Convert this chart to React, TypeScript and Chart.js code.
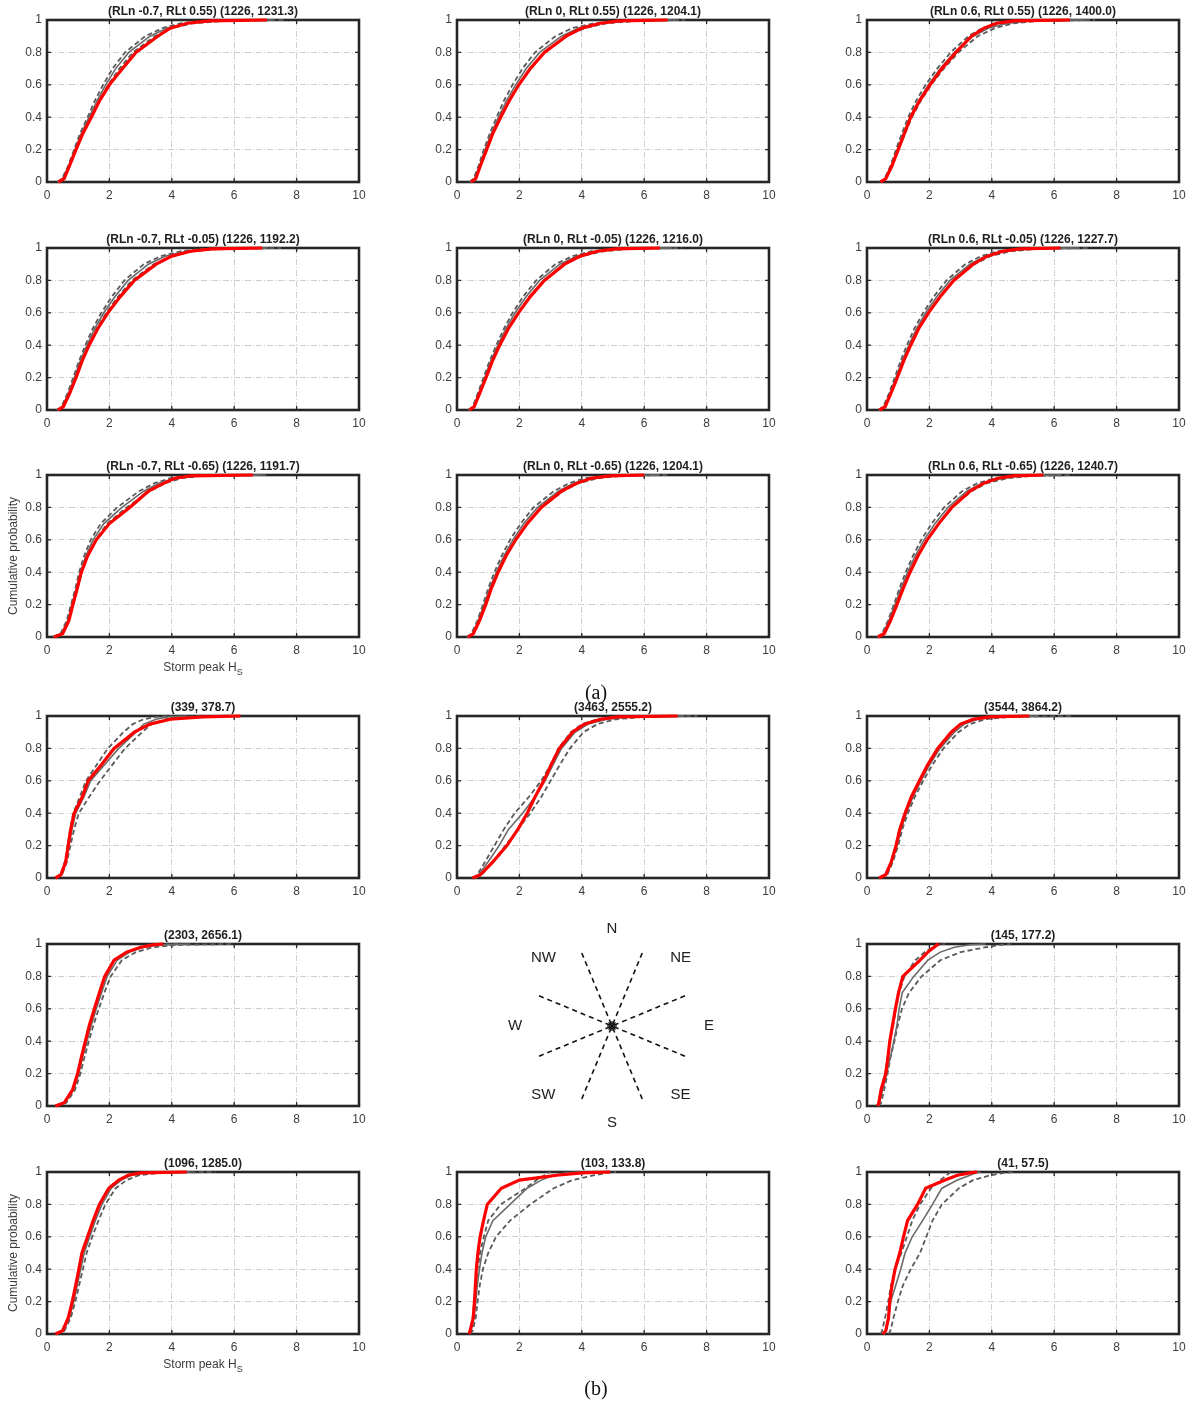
import React, { useEffect, useRef } from "react";
import { Chart, registerables } from "chart.js";
Chart.register(...registerables);

// ---------- data ----------
const PROB = [0, 0.02, 0.1, 0.2, 0.3, 0.4, 0.5, 0.6, 0.7, 0.8, 0.9, 0.95, 0.98, 0.995, 1];
const X_TICKS = [0, 2, 4, 6, 8, 10];
const Y_TICKS = [0, 0.2, 0.4, 0.6, 0.8, 1];

const TITLES = [
  "(RLn -0.7, RLt 0.55) (1226, 1231.3)",
  "(RLn 0, RLt 0.55) (1226, 1204.1)",
  "(RLn 0.6, RLt 0.55) (1226, 1400.0)",
  "(RLn -0.7, RLt -0.05) (1226, 1192.2)",
  "(RLn 0, RLt -0.05) (1226, 1216.0)",
  "(RLn 0.6, RLt -0.05) (1226, 1227.7)",
  "(RLn -0.7, RLt -0.65) (1226, 1191.7)",
  "(RLn 0, RLt -0.65) (1226, 1204.1)",
  "(RLn 0.6, RLt -0.65) (1226, 1240.7)",
  "(339, 378.7)",
  "(3463, 2555.2)",
  "(3544, 3864.2)",
  "(2303, 2656.1)",
  "(145, 177.2)",
  "(1096, 1285.0)",
  "(103, 133.8)",
  "(41, 57.5)",
];

// empirical CDF (red): storm peak Hs at each PROB level
const RED_X = [
  [0.37, 0.55, 0.72, 0.93, 1.15, 1.42, 1.68, 2.0, 2.42, 2.85, 3.55, 3.95, 4.5, 5.2, 7.05],
  [0.45, 0.6, 0.75, 0.95, 1.15, 1.4, 1.67, 1.98, 2.35, 2.8, 3.5, 4.0, 4.6, 5.2, 6.75],
  [0.43, 0.6, 0.8, 1.0, 1.2, 1.4, 1.68, 2.02, 2.4, 2.85, 3.35, 3.75, 4.15, 4.7, 6.5],
  [0.35, 0.52, 0.72, 0.93, 1.12, 1.35, 1.62, 1.95, 2.35, 2.8, 3.5, 4.0, 4.6, 5.3, 6.9],
  [0.4, 0.55, 0.72, 0.93, 1.13, 1.37, 1.64, 1.97, 2.35, 2.8, 3.45, 3.95, 4.5, 5.1, 6.5],
  [0.4, 0.58, 0.76, 0.97, 1.17, 1.4, 1.65, 1.97, 2.35, 2.78, 3.4, 3.85, 4.35, 4.9, 6.2],
  [0.22, 0.5, 0.7, 0.83, 0.97, 1.1, 1.3, 1.58, 2.0, 2.65, 3.25, 3.75, 4.1, 4.6, 6.6],
  [0.35, 0.52, 0.72, 0.92, 1.1, 1.32, 1.57, 1.88, 2.25, 2.7, 3.35, 3.85, 4.3, 4.9, 6.0],
  [0.35, 0.55, 0.75, 0.96, 1.16, 1.38, 1.63, 1.93, 2.3, 2.72, 3.3, 3.75, 4.2, 4.7, 5.65],
  [0.27, 0.45, 0.6, 0.68, 0.76, 0.87, 1.13, 1.32, 1.75, 2.15, 2.8, 3.3, 3.95, 5.0, 6.2],
  [0.5, 0.75, 1.15, 1.6, 1.95, 2.25, 2.5, 2.78, 3.02, 3.28, 3.7, 4.08, 4.6, 5.15, 7.07],
  [0.39, 0.6, 0.78, 0.93, 1.05, 1.22, 1.42, 1.68, 1.95, 2.27, 2.7, 3.0, 3.4, 3.95, 5.2],
  [0.27, 0.55, 0.82, 0.98, 1.1, 1.23, 1.36, 1.52, 1.68, 1.85, 2.15, 2.55, 3.0, 3.4, 3.73],
  [0.34, 0.38, 0.45, 0.6, 0.67, 0.73, 0.82, 0.91, 1.01, 1.15, 1.7, 1.95, 2.15, 2.25, 2.31],
  [0.27, 0.5, 0.68, 0.81, 0.92, 1.02, 1.12, 1.3, 1.48, 1.68, 1.98, 2.3, 2.6, 3.0, 4.48],
  [0.39, 0.42, 0.52, 0.56, 0.59, 0.62, 0.67, 0.74, 0.85, 0.97, 1.42, 2.0, 3.2, 4.0, 4.91],
  [0.5, 0.6, 0.69, 0.73, 0.8, 0.9, 1.05, 1.17, 1.3, 1.62, 1.88, 2.5, 2.9, 3.3, 3.53],
];

// model median (grey solid)
const MEDIAN_X = [
  [0.35, 0.5, 0.7, 0.9, 1.1, 1.35, 1.6, 1.88, 2.2, 2.62, 3.3, 3.85, 4.5, 5.4, 7.2],
  [0.42, 0.56, 0.72, 0.9, 1.1, 1.33, 1.58, 1.88, 2.22, 2.65, 3.35, 3.9, 4.6, 5.5, 7.0],
  [0.42, 0.58, 0.78, 0.97, 1.17, 1.38, 1.65, 1.97, 2.35, 2.8, 3.4, 3.9, 4.5, 5.3, 7.0],
  [0.33, 0.48, 0.68, 0.88, 1.06, 1.28, 1.52, 1.82, 2.18, 2.6, 3.25, 3.8, 4.5, 5.3, 7.1],
  [0.38, 0.52, 0.69, 0.89, 1.08, 1.31, 1.56, 1.86, 2.22, 2.65, 3.3, 3.85, 4.5, 5.3, 6.9],
  [0.39, 0.55, 0.73, 0.93, 1.12, 1.34, 1.58, 1.88, 2.24, 2.66, 3.3, 3.8, 4.4, 5.2, 6.8],
  [0.22, 0.45, 0.66, 0.8, 0.94, 1.07, 1.24, 1.48, 1.82, 2.4, 3.1, 3.6, 4.1, 4.8, 6.9],
  [0.33, 0.49, 0.68, 0.87, 1.05, 1.26, 1.5, 1.79, 2.14, 2.58, 3.25, 3.75, 4.3, 5.1, 6.5],
  [0.34, 0.51, 0.7, 0.9, 1.09, 1.3, 1.54, 1.83, 2.18, 2.6, 3.2, 3.7, 4.3, 5.0, 6.2],
  [0.28, 0.45, 0.6, 0.7, 0.8, 0.92, 1.18, 1.4, 1.85, 2.3, 2.85, 3.1, 3.5, 3.9, 4.5],
  [0.55, 0.7, 1.0, 1.35, 1.65, 2.1, 2.5, 2.82, 3.08, 3.35, 3.78, 4.2, 4.8, 5.6, 7.3],
  [0.4, 0.62, 0.8, 0.96, 1.09, 1.26, 1.47, 1.73, 2.01, 2.34, 2.8, 3.12, 3.55, 4.2, 5.5],
  [0.28, 0.58, 0.85, 1.02, 1.14, 1.28, 1.42, 1.58, 1.75, 1.93, 2.25, 2.65, 3.1, 3.6, 4.6],
  [0.35, 0.4, 0.5, 0.63, 0.75, 0.86, 0.96, 1.03, 1.13, 1.5, 1.95, 2.35, 2.8, 3.3, 3.8],
  [0.28, 0.53, 0.72, 0.86, 0.97, 1.08, 1.19, 1.37, 1.55, 1.76, 2.06, 2.38, 2.7, 3.2, 4.6],
  [0.4, 0.45, 0.55, 0.6, 0.65, 0.72, 0.8, 0.92, 1.15, 1.7, 2.25, 2.7, 3.1, 3.5, 3.96],
  [0.55, 0.62, 0.7, 0.76, 0.92, 1.08, 1.22, 1.45, 1.78, 2.1, 2.4, 2.9, 3.3, 3.5, 3.64],
];

// upper uncertainty band (grey dashed, left)
const UPPER_X = [
  [0.33, 0.48, 0.68, 0.87, 1.06, 1.3, 1.53, 1.8, 2.1, 2.5, 3.15, 3.7, 4.3, 5.1, 6.8],
  [0.4, 0.53, 0.69, 0.86, 1.05, 1.27, 1.5, 1.78, 2.1, 2.5, 3.15, 3.7, 4.4, 5.2, 6.8],
  [0.4, 0.56, 0.75, 0.93, 1.12, 1.32, 1.57, 1.88, 2.25, 2.68, 3.25, 3.7, 4.3, 5.1, 6.8],
  [0.31, 0.46, 0.65, 0.84, 1.02, 1.23, 1.46, 1.74, 2.08, 2.48, 3.1, 3.65, 4.3, 5.0, 6.8],
  [0.36, 0.5, 0.66, 0.85, 1.04, 1.26, 1.5, 1.78, 2.12, 2.54, 3.15, 3.7, 4.3, 5.1, 6.7],
  [0.37, 0.52, 0.7, 0.89, 1.07, 1.28, 1.51, 1.8, 2.14, 2.55, 3.15, 3.65, 4.2, 5.0, 6.6],
  [0.2, 0.43, 0.63, 0.77, 0.91, 1.03, 1.19, 1.4, 1.72, 2.25, 2.95, 3.45, 3.95, 4.6, 6.7],
  [0.31, 0.46, 0.65, 0.83, 1.0, 1.2, 1.43, 1.7, 2.04, 2.45, 3.1, 3.6, 4.1, 4.9, 6.3],
  [0.32, 0.48, 0.67, 0.86, 1.04, 1.24, 1.47, 1.74, 2.07, 2.47, 3.05, 3.55, 4.1, 4.8, 6.0],
  [0.27, 0.43, 0.57, 0.66, 0.74, 0.84, 1.05, 1.25, 1.6, 1.95, 2.45, 2.75, 3.1, 3.5, 4.0],
  [0.5, 0.65, 0.9, 1.2, 1.5, 1.85, 2.3, 2.7, 3.0, 3.25, 3.65, 4.0, 4.5, 5.2, 7.0],
  [0.38, 0.59, 0.77, 0.92, 1.04, 1.21, 1.41, 1.67, 1.94, 2.25, 2.68, 3.0, 3.4, 4.0, 5.3],
  [0.27, 0.55, 0.82, 0.98, 1.1, 1.23, 1.37, 1.53, 1.69, 1.86, 2.15, 2.55, 3.0, 3.5, 4.2],
  [0.33, 0.37, 0.44, 0.58, 0.66, 0.74, 0.84, 0.93, 1.03, 1.2, 1.55, 1.85, 2.1, 2.3, 2.5],
  [0.27, 0.5, 0.69, 0.82, 0.93, 1.03, 1.14, 1.31, 1.48, 1.68, 1.97, 2.28, 2.6, 3.0, 4.3],
  [0.38, 0.42, 0.5, 0.55, 0.6, 0.66, 0.74, 0.86, 1.0, 1.4, 2.2, 2.55, 2.8, 2.92, 3.0],
  [0.45, 0.48, 0.58, 0.68, 0.77, 0.9, 1.1, 1.28, 1.45, 1.7, 2.05, 2.35, 2.55, 2.65, 2.7],
];

// lower uncertainty band (grey dashed, right)
const LOWER_X = [
  [0.37, 0.52, 0.72, 0.93, 1.14, 1.4, 1.67, 1.96, 2.32, 2.75, 3.45, 4.0, 4.7, 5.7, 7.6],
  [0.44, 0.58, 0.75, 0.94, 1.15, 1.39, 1.65, 1.97, 2.34, 2.8, 3.5, 4.1, 4.8, 5.8, 7.3],
  [0.44, 0.6, 0.81, 1.01, 1.22, 1.44, 1.72, 2.06, 2.46, 2.93, 3.55, 4.1, 4.7, 5.6, 7.3],
  [0.35, 0.5, 0.71, 0.92, 1.1, 1.33, 1.58, 1.9, 2.28, 2.72, 3.42, 4.0, 4.7, 5.6, 7.5],
  [0.4, 0.54, 0.72, 0.93, 1.13, 1.36, 1.63, 1.95, 2.32, 2.78, 3.45, 4.0, 4.7, 5.6, 7.2],
  [0.41, 0.57, 0.76, 0.97, 1.17, 1.4, 1.65, 1.96, 2.34, 2.78, 3.45, 3.95, 4.6, 5.5, 7.1],
  [0.24, 0.48, 0.69, 0.84, 0.98, 1.12, 1.3, 1.56, 1.93, 2.55, 3.3, 3.8, 4.3, 5.0, 7.1],
  [0.35, 0.52, 0.71, 0.91, 1.1, 1.31, 1.56, 1.87, 2.24, 2.7, 3.4, 3.9, 4.5, 5.3, 6.8],
  [0.36, 0.53, 0.73, 0.94, 1.14, 1.36, 1.61, 1.92, 2.29, 2.73, 3.35, 3.85, 4.5, 5.3, 6.6],
  [0.3, 0.48, 0.64, 0.75, 0.87, 1.02, 1.35, 1.7, 2.1, 2.5, 3.05, 3.35, 3.8, 4.3, 5.0],
  [0.6, 0.8, 1.15, 1.55, 1.95, 2.35, 2.7, 3.0, 3.3, 3.62, 4.05, 4.5, 5.1, 6.0, 7.7],
  [0.42, 0.65, 0.83, 1.0, 1.13, 1.31, 1.53, 1.8, 2.1, 2.45, 2.93, 3.3, 3.8, 4.6, 6.6],
  [0.3, 0.62, 0.9, 1.07, 1.2, 1.34, 1.49, 1.66, 1.84, 2.04, 2.4, 2.85, 3.4, 4.2, 5.9],
  [0.38, 0.45, 0.55, 0.66, 0.75, 0.88, 0.99, 1.12, 1.35, 1.75, 2.35, 3.0, 3.8, 4.3, 4.6],
  [0.3, 0.56, 0.76, 0.91, 1.03, 1.15, 1.27, 1.45, 1.65, 1.87, 2.2, 2.55, 2.95, 3.6, 5.4],
  [0.42, 0.5, 0.6, 0.66, 0.73, 0.83, 1.0, 1.25, 1.7, 2.35, 3.1, 3.7, 4.4, 4.8, 5.1],
  [0.7, 0.75, 0.85, 0.99, 1.15, 1.4, 1.7, 1.9, 2.1, 2.4, 2.95, 3.4, 3.96, 4.4, 4.7],
];

const COMPASS_LABELS = ["N", "NE", "E", "SE", "S", "SW", "W", "NW"];
const COMPASS_BOUNDARY_DEG = [22.5, 67.5, 112.5, 157.5];

// ---------- layout (styles only) ----------
const COL_LEFT = [47, 457, 867];
const ROW_TOP = [20, 248, 475, 716, 944, 1172];
const PANEL_CELLS: [number, number][] = [
  [0, 0], [0, 1], [0, 2],
  [1, 0], [1, 1], [1, 2],
  [2, 0], [2, 1], [2, 2],
  [3, 0], [3, 1], [3, 2],
  [4, 0], [4, 2],
  [5, 0], [5, 1], [5, 2],
];
const Y_AXIS_W = 47;
const TOP_PAD = 22;
const RIGHT_PAD = 22;
const PLOT_W = 312;
const PLOT_H = 162;
const X_AXIS_H = 48;
const FONT = '"Liberation Sans", Arial, Helvetica, sans-serif';
const TEXT_COLOR = "#3c3c3c";
const GRID_COLOR = "#cfcfcf";

function makeFramePlugin(title: string, withLabels: boolean) {
  return {
    id: "frame",
    beforeDatasetsDraw(chart: any) {
      const { ctx, chartArea: a } = chart;
      const xs = chart.scales.x;
      const ys = chart.scales.y;
      ctx.save();
      ctx.strokeStyle = "#262626";
      ctx.lineWidth = 1.3;
      ctx.setLineDash([]);
      ctx.beginPath();
      X_TICKS.forEach((v) => {
        const px = xs.getPixelForValue(v);
        ctx.moveTo(px, a.bottom);
        ctx.lineTo(px, a.bottom - 4);
        ctx.moveTo(px, a.top);
        ctx.lineTo(px, a.top + 4);
      });
      Y_TICKS.forEach((v) => {
        const py = ys.getPixelForValue(v);
        ctx.moveTo(a.left, py);
        ctx.lineTo(a.left + 4, py);
        ctx.moveTo(a.right, py);
        ctx.lineTo(a.right - 4, py);
      });
      ctx.stroke();
      ctx.lineWidth = 2.6;
      ctx.strokeRect(a.left, a.top, a.right - a.left, a.bottom - a.top);
      ctx.restore();
    },
    afterDraw(chart: any) {
      const { ctx, chartArea: a } = chart;
      const cx = (a.left + a.right) / 2;
      ctx.save();
      ctx.fillStyle = "#1e1e1e";
      ctx.font = `bold 12px ${FONT}`;
      ctx.textAlign = "center";
      ctx.textBaseline = "alphabetic";
      ctx.fillText(title, cx, a.top - 5);
      if (withLabels) {
        ctx.fillStyle = TEXT_COLOR;
        ctx.font = `12px ${FONT}`;
        const main = "Storm peak H";
        const mw = ctx.measureText(main).width;
        ctx.font = `9px ${FONT}`;
        const sw = ctx.measureText("S").width;
        const start = cx - (mw + sw) / 2;
        ctx.textAlign = "left";
        ctx.font = `12px ${FONT}`;
        ctx.fillText(main, start, a.bottom + 34);
        ctx.font = `9px ${FONT}`;
        ctx.fillText("S", start + mw, a.bottom + 38);
        ctx.font = `12px ${FONT}`;
        ctx.translate(14, (a.top + a.bottom) / 2);
        ctx.rotate(-Math.PI / 2);
        ctx.textAlign = "center";
        ctx.textBaseline = "middle";
        ctx.fillText("Cumulative probability", 0, 0);
      }
      ctx.restore();
    },
  };
}

function Panel({ i }: { i: number }) {
  const ref = useRef<HTMLCanvasElement>(null);
  const [r, c] = PANEL_CELLS[i];
  const withLabels = c === 0 && (r === 2 || r === 5);
  const width = Y_AXIS_W + PLOT_W + RIGHT_PAD;
  const height = TOP_PAD + PLOT_H + X_AXIS_H;
  useEffect(() => {
    const pts = (xs: number[]) => xs.map((x, k) => ({ x, y: PROB[k] }));
    const common = { pointRadius: 0, tension: 0, fill: false, clip: 4 };
    const chart = new Chart(ref.current as HTMLCanvasElement, {
      type: "line",
      data: {
        datasets: [
          { ...common, data: pts(RED_X[i]), borderColor: "#ff0000", borderWidth: 3.2 },
          { ...common, data: pts(MEDIAN_X[i]), borderColor: "#6a6a6a", borderWidth: 1.6 },
          { ...common, data: pts(UPPER_X[i]), borderColor: "#5a5a5a", borderWidth: 1.8, borderDash: [5, 3] },
          { ...common, data: pts(LOWER_X[i]), borderColor: "#5a5a5a", borderWidth: 1.8, borderDash: [5, 3] },
        ],
      } as any,
      options: {
        animation: false,
        responsive: false,
        devicePixelRatio: 1,
        events: [],
        layout: { autoPadding: false, padding: { left: 0, right: RIGHT_PAD, top: TOP_PAD, bottom: 0 } },
        plugins: { legend: { display: false }, tooltip: { enabled: false }, title: { display: false } },
        scales: {
          x: {
            type: "linear",
            min: 0,
            max: 10,
            ticks: { stepSize: 2, padding: 6, color: TEXT_COLOR, font: { size: 12, family: FONT }, maxRotation: 0, autoSkip: false },
            grid: { color: GRID_COLOR, lineWidth: 1, drawTicks: false },
            border: { display: false, dash: [6, 2, 1, 2] },
            afterFit: (s: any) => { s.height = X_AXIS_H; },
          },
          y: {
            type: "linear",
            min: 0,
            max: 1,
            ticks: {
              stepSize: 0.2,
              padding: 5,
              color: TEXT_COLOR,
              font: { size: 12, family: FONT },
              callback: (v: any) => String(Math.round(Number(v) * 10) / 10),
            },
            grid: { color: GRID_COLOR, lineWidth: 1, drawTicks: false },
            border: { display: false, dash: [6, 2, 1, 2] },
            afterFit: (s: any) => { s.width = Y_AXIS_W; },
          },
        },
      } as any,
      plugins: [makeFramePlugin(TITLES[i], withLabels)],
    });
    return () => chart.destroy();
  }, [i]);
  return (
    <canvas
      ref={ref}
      width={width}
      height={height}
      style={{
        position: "absolute",
        left: COL_LEFT[c] - Y_AXIS_W,
        top: ROW_TOP[r] - TOP_PAD,
        width,
        height,
        display: "block",
      }}
    />
  );
}

function Compass() {
  const ref = useRef<HTMLCanvasElement>(null);
  const size = 240;
  const R_LINE = 79;
  const R_LABEL = 97;
  useEffect(() => {
    const rad = (d: number) => (d * Math.PI) / 180;
    const lineSets = COMPASS_BOUNDARY_DEG.map((d) => ({
      data: [
        { x: R_LINE * Math.cos(rad(d)), y: R_LINE * Math.sin(rad(d)) },
        { x: R_LINE * Math.cos(rad(d + 180)), y: R_LINE * Math.sin(rad(d + 180)) },
      ],
      borderColor: "#111",
      borderWidth: 1.6,
      borderDash: [5, 4],
      pointRadius: 0,
      fill: false,
    }));
    const labelPlugin = {
      id: "compassLabels",
      afterDraw(chart: any) {
        const { ctx } = chart;
        const xs = chart.scales.x;
        const ys = chart.scales.y;
        ctx.save();
        ctx.fillStyle = "#222";
        ctx.font = `15px ${FONT}`;
        ctx.textAlign = "center";
        ctx.textBaseline = "middle";
        COMPASS_LABELS.forEach((lab, k) => {
          const d = 90 - 45 * k;
          ctx.fillText(lab, xs.getPixelForValue(R_LABEL * Math.cos(rad(d))), ys.getPixelForValue(R_LABEL * Math.sin(rad(d))));
        });
        ctx.restore();
      },
    };
    const chart = new Chart(ref.current as HTMLCanvasElement, {
      type: "line",
      data: {
        datasets: [
          {
            data: [{ x: 0, y: 0 }],
            pointStyle: "star",
            pointRadius: 5,
            borderColor: "#000",
            backgroundColor: "rgba(0,0,0,0)",
            borderWidth: 1.1,
            showLine: false,
          },
          ...lineSets,
        ],
      } as any,
      options: {
        animation: false,
        responsive: false,
        devicePixelRatio: 1,
        events: [],
        layout: { autoPadding: false, padding: 0 },
        plugins: { legend: { display: false }, tooltip: { enabled: false } },
        scales: {
          x: { type: "linear", min: -size / 2, max: size / 2, display: false },
          y: { type: "linear", min: -size / 2, max: size / 2, display: false },
        },
      } as any,
      plugins: [labelPlugin],
    });
    return () => chart.destroy();
  }, []);
  return (
    <canvas
      ref={ref}
      width={size}
      height={size}
      style={{ position: "absolute", left: 612 - size / 2, top: 1026 - size / 2, width: size, height: size, display: "block" }}
    />
  );
}

const captionStyle: React.CSSProperties = {
  position: "absolute",
  width: 80,
  textAlign: "center",
  font: '20px "Liberation Serif", "Times New Roman", serif',
  lineHeight: "24px",
  color: "#111",
};

export default function App() {
  return (
    <div style={{ position: "absolute", left: 0, top: 0, width: 1188, height: 1405, background: "#fff", overflow: "hidden" }}>
      {PANEL_CELLS.map((_, i) => (
        <Panel key={i} i={i} />
      ))}
      <Compass />
      <div style={{ ...captionStyle, left: 556, top: 680 }}>(a)</div>
      <div style={{ ...captionStyle, left: 556, top: 1376 }}>(b)</div>
    </div>
  );
}
